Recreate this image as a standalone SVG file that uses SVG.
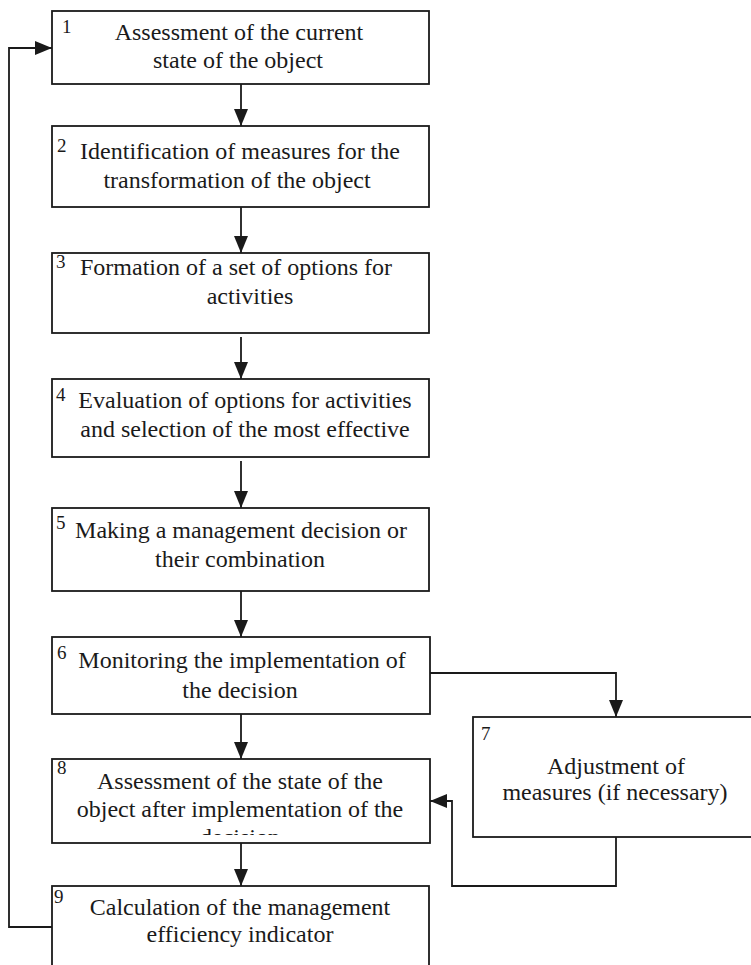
<svg xmlns="http://www.w3.org/2000/svg" width="751" height="965" viewBox="0 0 751 965">
<style>
.box{fill:#fff;stroke:#1a1a1a;stroke-width:1.8}
.t{font-family:"Liberation Serif","Times New Roman",serif;font-size:24px;fill:#1a1a1a;text-anchor:middle}
.n{font-family:"Liberation Serif","Times New Roman",serif;font-size:19px;fill:#1a1a1a}
.c{fill:none;stroke:#1a1a1a;stroke-width:1.8}
</style>
<defs>
<marker id="ah" viewBox="0 0 17 14" refX="17" refY="7" markerWidth="17" markerHeight="14" markerUnits="userSpaceOnUse" orient="auto">
<path d="M0,0 L17,7 L0,14 Z" fill="#1a1a1a"/>
</marker>
<clipPath id="clip8"><rect x="52" y="759" width="377" height="76"/></clipPath>
</defs>
<g id="connectors">
<line class="c" x1="241" y1="84" x2="241" y2="126" marker-end="url(#ah)"/>
<line class="c" x1="241" y1="207" x2="241" y2="253" marker-end="url(#ah)"/>
<line class="c" x1="241" y1="337" x2="241" y2="379" marker-end="url(#ah)"/>
<line class="c" x1="241" y1="461" x2="241" y2="508" marker-end="url(#ah)"/>
<line class="c" x1="241" y1="591" x2="241" y2="637" marker-end="url(#ah)"/>
<line class="c" x1="241" y1="714" x2="241" y2="759" marker-end="url(#ah)"/>
<line class="c" x1="241" y1="843" x2="241" y2="886" marker-end="url(#ah)"/>
<polyline class="c" points="430,673 616,673 616,717" marker-end="url(#ah)"/>
<polyline class="c" points="616,837 616,886 452,886 452,801 430,801" marker-end="url(#ah)"/>
<polyline class="c" points="52,927 9,927 9,48 52,48" marker-end="url(#ah)"/>
</g>
<g id="node1">
<rect class="box" x="52" y="11" width="377" height="73"/>
<text class="n" x="62" y="33">1</text>
<text class="t" x="239" y="40">Assessment of the current</text>
<text class="t" x="238" y="68">state of the object</text>
</g>
<g id="node2">
<rect class="box" x="52" y="126" width="377" height="81"/>
<text class="n" x="57" y="152">2</text>
<text class="t" x="240" y="159">Identification of measures for the</text>
<text class="t" x="237" y="188">transformation of the object</text>
</g>
<g id="node3">
<rect class="box" x="52" y="253" width="377" height="80"/>
<text class="n" x="56" y="268">3</text>
<text class="t" x="236" y="275">Formation of a set of options for</text>
<text class="t" x="250" y="304">activities</text>
</g>
<g id="node4">
<rect class="box" x="52" y="379" width="377" height="78"/>
<text class="n" x="56" y="401">4</text>
<text class="t" x="245" y="408">Evaluation of options for activities</text>
<text class="t" x="245" y="437">and selection of the most effective</text>
</g>
<g id="node5">
<rect class="box" x="52" y="508" width="377" height="83"/>
<text class="n" x="56" y="529">5</text>
<text class="t" x="241" y="538">Making a management decision or</text>
<text class="t" x="240" y="567">their combination</text>
</g>
<g id="node6">
<rect class="box" x="52" y="637" width="378" height="77"/>
<text class="n" x="57" y="659">6</text>
<text class="t" x="242" y="668">Monitoring the implementation of</text>
<text class="t" x="240" y="698">the decision</text>
</g>
<g id="node7">
<rect class="box" x="473" y="717" width="282" height="120"/>
<text class="n" x="481" y="740">7</text>
<text class="t" x="616" y="774">Adjustment of</text>
<text class="t" x="615" y="800">measures (if necessary)</text>
</g>
<g id="node8">
<rect class="box" x="52" y="759" width="378" height="84"/>
<text class="n" x="57" y="774">8</text>
<text class="t" x="240" y="789">Assessment of the state of the</text>
<text class="t" x="240" y="817">object after implementation of the</text>
<text class="t" x="240" y="845" clip-path="url(#clip8)">decision</text>
</g>
<g id="node9">
<rect class="box" x="52" y="886" width="377" height="90"/>
<text class="n" x="54" y="903">9</text>
<text class="t" x="240" y="915">Calculation of the management</text>
<text class="t" x="240" y="942">efficiency indicator</text>
</g>
</svg>
